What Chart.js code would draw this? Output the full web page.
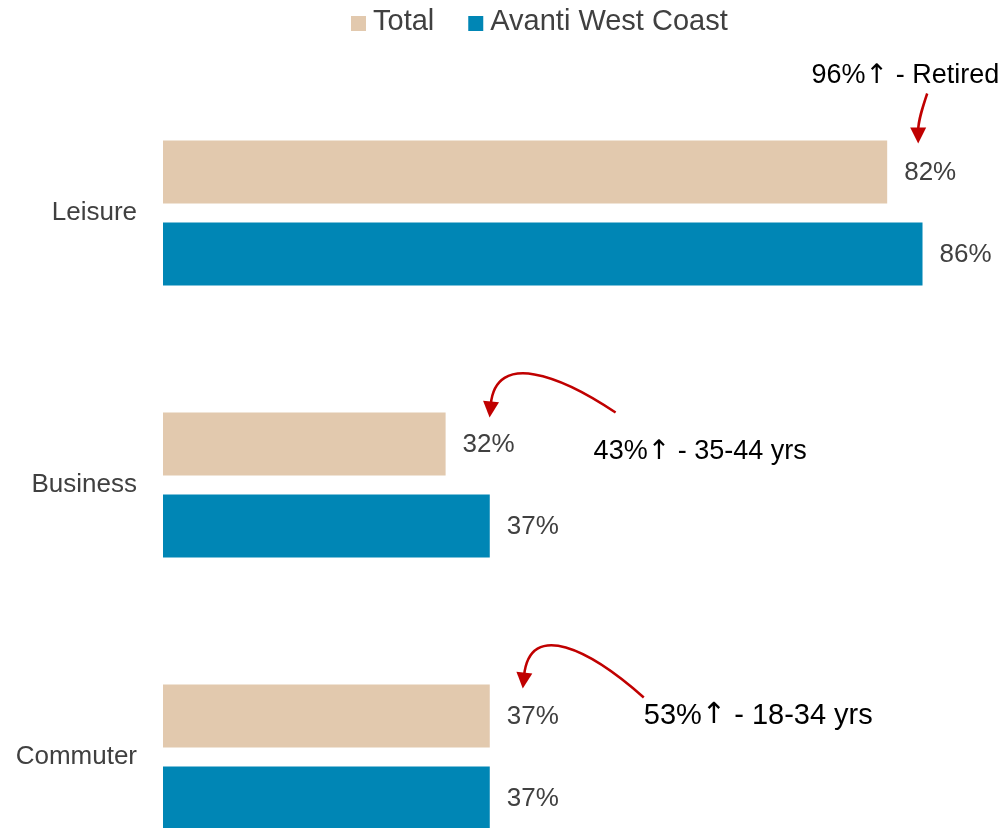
<!DOCTYPE html>
<html>
<head>
<meta charset="utf-8">
<title>Journey purpose</title>
<script src="https://cdn.jsdelivr.net/npm/chart.js@4"></script>
<style>
  body{margin:0;background:#fff;}
  #frame{width:1002px;height:828px;overflow:hidden;}
  canvas{display:block;}
</style>
</head>
<body>
<div id="frame"><canvas id="chart" width="1002" height="893"></canvas></div>
<script>
// --- Data ---
const categories = ['Leisure','Business','Commuter'];
const seriesNames = ['Total','Avanti West Coast'];
const totalValues = [82,32,37];
const avantiValues = [86,37,37];
const callouts = ['96%↑ - Retired','43%↑ - 35-44 yrs','53%↑ - 18-34 yrs'];

const colors = ['#E2C9AE','#0086B5'];
const FONT = '"Liberation Sans", Arial, sans-serif';
const ARROW_FONT = '"DejaVu Sans", sans-serif';

// callout text + arrow offsets, relative to the end/top of the Total bar
const calloutShapes = [
  {dx:112, dy:-65, align:'right', size:27, start:[40,-47], c1:[35,-32], c2:[31,-20], tip:[31,3]},
  {dx:148, dy:39,  align:'left',  size:27, start:[170,0],  c1:[115,-37], c2:[50,-62], tip:[44,5]},
  {dx:154, dy:31,  align:'left',  size:29, start:[154,13], c1:[100,-35], c2:[40,-65], tip:[33,4]}
];

// text with the ↑ glyph taken from a font that has a wide arrow
function drawCallout(ctx, text, x, y, size, align){
  const parts = text.split('↑');
  const fonts = [`${size}px ${FONT}`, `${size}px ${ARROW_FONT}`, `${size}px ${FONT}`];
  const pieces = [parts[0], '↑', parts[1]];
  const widths = pieces.map((p,i)=>{ ctx.font = fonts[i]; return ctx.measureText(p).width; });
  const total = widths.reduce((a,b)=>a+b,0);
  let cx = align === 'right' ? x - total : x;
  ctx.textAlign = 'left';
  pieces.forEach((p,i)=>{ ctx.font = fonts[i]; ctx.fillText(p, cx, y); cx += widths[i]; });
}

// --- Legend drawn by hand (tight box/text spacing) ---
const legendPlugin = {
  id:'handLegend',
  afterDraw(chart){
    const ctx = chart.ctx;
    ctx.save();
    ctx.font = `29px ${FONT}`;
    ctx.textBaseline = 'middle';
    let x = 351;
    seriesNames.forEach((name,i)=>{
      ctx.fillStyle = colors[i];
      ctx.fillRect(x, 16, 15, 15);
      x += 15 + 7;
      ctx.fillStyle = '#404040';
      ctx.textAlign = 'left';
      ctx.fillText(name, x, 22);
      x += ctx.measureText(name).width + 34;
    });
    ctx.restore();
  }
};

// --- Value labels + callouts ---
const labelPlugin = {
  id:'barLabels',
  afterDatasetsDraw(chart){
    const ctx = chart.ctx;
    ctx.save();
    ctx.font = `26px ${FONT}`;
    ctx.fillStyle = '#404040';
    ctx.textAlign = 'left';
    ctx.textBaseline = 'middle';
    chart.data.datasets.forEach((ds,di)=>{
      chart.getDatasetMeta(di).data.forEach((bar,i)=>{
        ctx.fillText(ds.data[i] + '%', bar.x + 17, bar.y + 1);
      });
    });

    const totals = chart.getDatasetMeta(0).data;
    callouts.forEach((text,i)=>{
      const s = calloutShapes[i];
      const bar = totals[i];
      const bx = bar.x, by = bar.y - bar.height/2;
      const p = a => [bx + a[0], by + a[1]];

      ctx.fillStyle = '#000';
      drawCallout(ctx, text, bx + s.dx, by + s.dy, s.size, s.align);

      const [x0,y0] = p(s.start), [x1,y1] = p(s.c1), [x2,y2] = p(s.c2), [x3,y3] = p(s.tip);
      const ang = Math.atan2(y3 - y2, x3 - x2);
      const len = 16, half = 8;
      // stop the shaft at the arrowhead base
      const ex = x3 - Math.cos(ang)*len*0.8, ey = y3 - Math.sin(ang)*len*0.8;
      ctx.strokeStyle = '#C00000';
      ctx.lineWidth = 2.5;
      ctx.beginPath();
      ctx.moveTo(x0,y0);
      ctx.bezierCurveTo(x1,y1,x2,y2,ex,ey);
      ctx.stroke();
      ctx.fillStyle = '#C00000';
      ctx.beginPath();
      ctx.moveTo(x3,y3);
      ctx.lineTo(x3 - Math.cos(ang)*len + Math.sin(ang)*half, y3 - Math.sin(ang)*len - Math.cos(ang)*half);
      ctx.lineTo(x3 - Math.cos(ang)*len - Math.sin(ang)*half, y3 - Math.sin(ang)*len + Math.cos(ang)*half);
      ctx.closePath();
      ctx.fill();
    });
    ctx.restore();
  }
};

// --- Chart ---
new Chart(document.getElementById('chart'), {
  type:'bar',
  data:{
    labels:categories,
    datasets:[
      {label:seriesNames[0], data:totalValues, backgroundColor:colors[0]},
      {label:seriesNames[1], data:avantiValues, backgroundColor:colors[1]}
    ]
  },
  options:{
    indexAxis:'y',
    responsive:false,
    animation:false,
    categoryPercentage:0.603,
    barPercentage:0.768,
    layout:{padding:{top:77, right:0, bottom:0, left:0}},
    plugins:{legend:{display:false}, tooltip:{enabled:false}},
    scales:{
      x:{display:false, min:0, max:95},
      y:{
        grid:{display:false},
        border:{display:false},
        ticks:{color:'#404040', font:{family:FONT, size:26}, padding:18},
        // fixed gutter for the labels, and no extra top/bottom room for them
        afterFit(scale){ scale.width = 163; scale.paddingTop = 0; scale.paddingBottom = 0; }
      }
    }
  },
  plugins:[legendPlugin, labelPlugin]
});
</script>
</body>
</html>
